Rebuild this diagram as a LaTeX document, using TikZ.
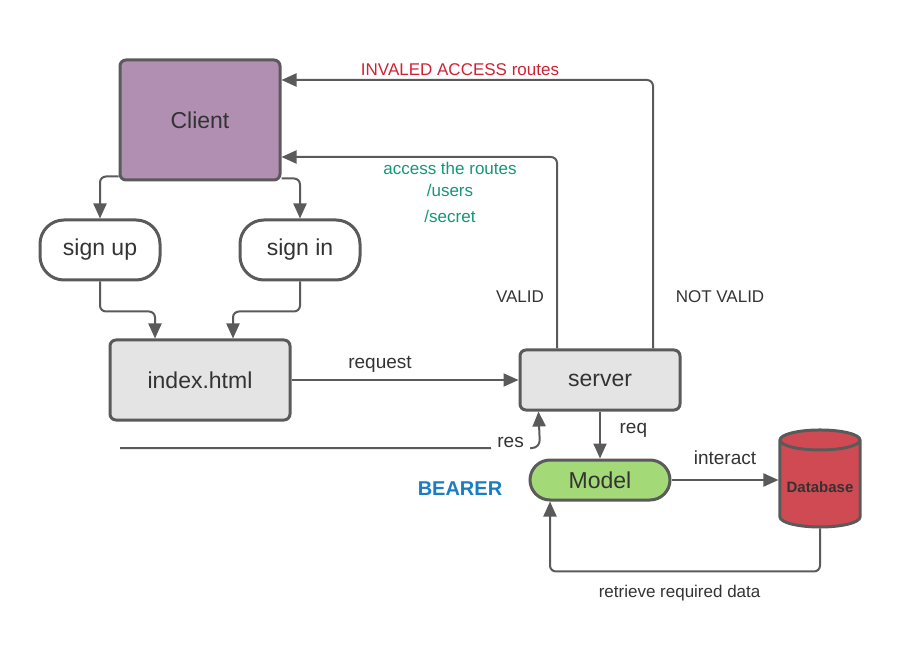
\documentclass[tikz,border=0pt]{standalone}
\usepackage{fontspec}
\setmainfont{Liberation Sans}
\usetikzlibrary{arrows.meta, shapes.geometric}

\definecolor{linegray}{HTML}{5A5A5A}
\definecolor{textgray}{HTML}{333333}
\definecolor{clientpurple}{HTML}{B18FB2}
\definecolor{boxgray}{HTML}{E4E4E4}
\definecolor{modelgreen}{HTML}{A3D977}
\definecolor{dbred}{HTML}{D04A53}
\definecolor{validgreen}{HTML}{13967A}
\definecolor{invalidred}{HTML}{CF2233}
\definecolor{bearerblue}{HTML}{1A7DC4}

\tikzset{
	box/.style = {draw = linegray, line width = 1.5pt, rounded corners = 3pt,
		text = textgray, font = \fontsize{11.5}{13}\selectfont},
	pill/.style = {box, rounded corners = 12pt},
	link/.style = {draw = linegray, line width = 1pt, rounded corners = 3pt},
	note/.style = {text = textgray, font = \fontsize{9.5}{11}\selectfont},
	small note/.style = {text = textgray, font = \fontsize{8.5}{10}\selectfont}
}

\begin{document}
\begin{tikzpicture}[> = {Triangle[length = 7.5pt, width = 6.5pt]}, x = 0.5pt, y = -0.5pt]

	\useasboundingbox (0, 0) rectangle (900, 663);

	% Client and sign pages

	\node [box, fill = clientpurple, minimum width = 80pt, minimum height = 60pt] (client) at (200, 120) {Client};
	\node [pill, minimum width = 60pt, minimum height = 30pt] (signup) at (100, 250) {sign up};
	\node [pill, minimum width = 60pt, minimum height = 30pt] (signin) at (300, 250) {sign in};

	% Front end and server

	\node [box, fill = boxgray, minimum width = 90pt, minimum height = 40pt] (index) at (200, 380) {index.html};
	\node [box, fill = boxgray, minimum width = 80pt, minimum height = 30pt] (server) at (600, 380) {server};

	% Model and database

	\node [pill, fill = modelgreen, rounded corners = 10pt, minimum width = 70pt, minimum height = 20pt] (model) at (600, 480) {Model};
	\node [cylinder, shape border rotate = 90, aspect = 0.25, draw = linegray, line width = 1.5pt,
		fill = dbred, minimum width = 40pt, minimum height = 48.5pt, text = textgray,
		font = \bfseries\fontsize{7.5}{9}\selectfont] (db) at (820, 487) {Database};

	% Client to sign pages

	\draw [link, ->] ([yshift = 2.5pt] client.south west) -| (signup.north);
	\draw [link, ->] ([yshift = 1.5pt] client.south east) -| (signin.north);

	% Sign pages to index.html

	\draw [link, ->] (signup.south) -- ++(0, 30) -| ([xshift = -22.5pt] index.north);
	\draw [link, ->] (signin.south) -- ++(0, 30) -| ([xshift = 16.5pt] index.north);

	% Request and response

	\draw [link, ->] (index) -- node [note, above, pos = 0.39] {request} (server);

	\coordinate (res-start) at (120, 448);
	\draw [link, ->, rounded corners = 4pt] (res-start)
		-- node [note, fill = white, pos = 0.93, yshift = 3pt] {res} (540, 448)
		-- ([xshift = 10pt] server.south west);

	% Server back to client

	\draw [link, ->] ([xshift = -21.5pt] server.north) |- ([yshift = -18.5pt] client.east);
	\draw [link, ->] ([xshift = 26.5pt] server.north) |- ([yshift = 20pt] client.east);

	\node [small note] (valid-label) at (520, 297) {VALID};
	\node [small note] (notvalid-label) at (720, 297) {NOT VALID};
	\node [small note, text = validgreen, align = center] (access-label) at (450, 192)
		{access the routes\\[1pt] /users\\[3pt] /secret};
	\node [small note, text = invalidred] (invalid-label) at (460, 70) {INVALED ACCESS routes};

	% Server, model and database

	\draw [link, ->] (server.south) -- node [note, right = 6pt, pos = 0.4] {req} (model.north);
	\draw [link, ->] (model.east) -- node [note, above = 4pt] {interact} (model.east -| db.west);
	\draw [link, ->] (db.south) -- ++(0, 43) -| ([xshift = -25pt] model.south)
		node [small note, pos = 0.26, below = 3pt] {retrieve required data};

	% Bearer token

	\node [text = bearerblue, font = \bfseries\fontsize{10}{12}\selectfont] (bearer) at (460, 489) {BEARER};

\end{tikzpicture}
\end{document}
